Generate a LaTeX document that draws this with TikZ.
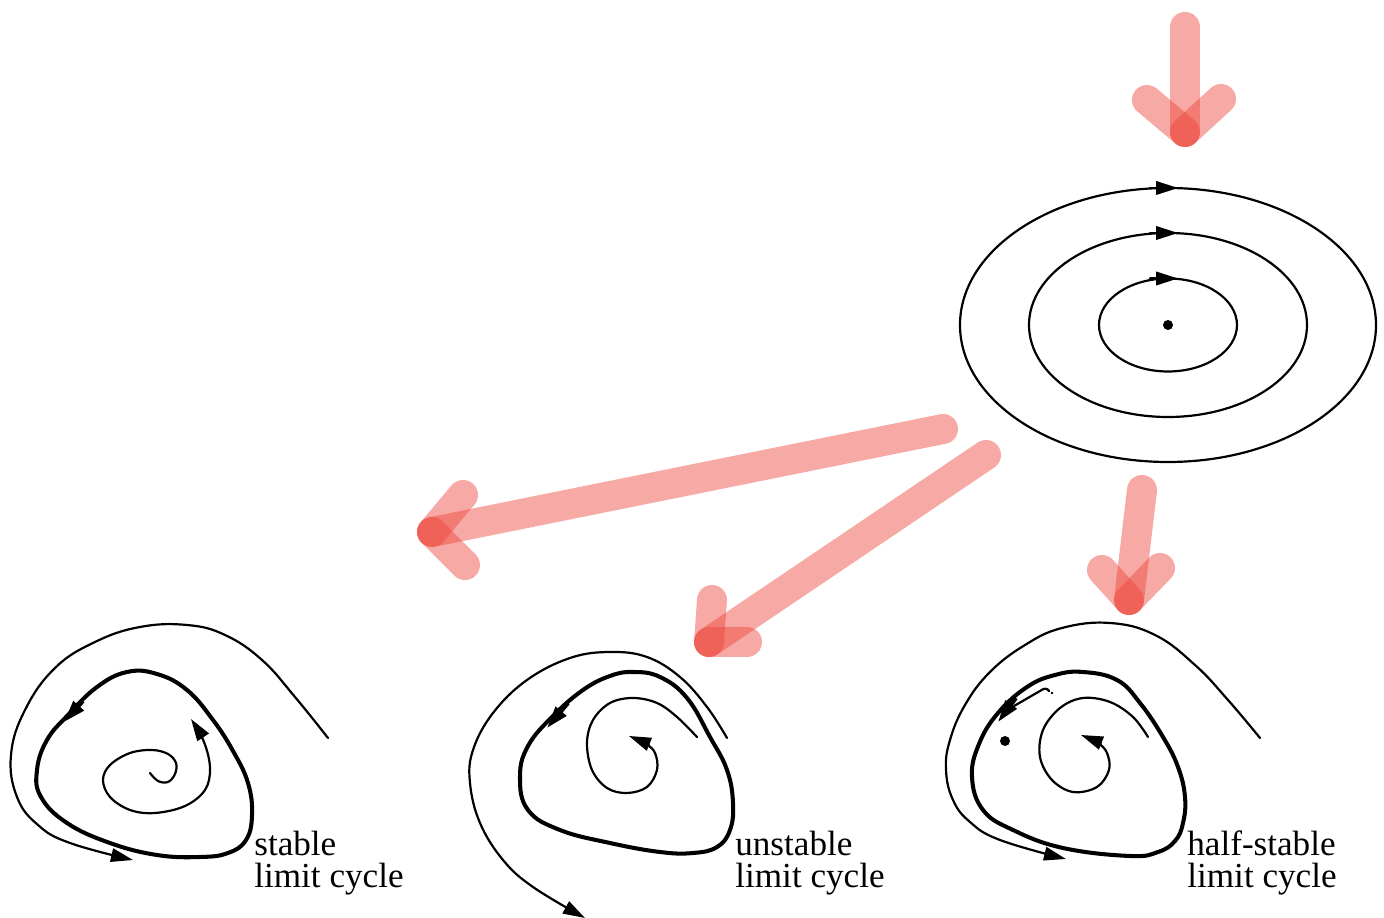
\documentclass[tikz,border=0pt]{standalone}
\usepackage{fontspec}
\setmainfont{Liberation Serif}
\usetikzlibrary{arrows.meta}
\definecolor{cuered}{RGB}{237,66,55}
\begin{document}
\begin{tikzpicture}[x=0.02cm, y=-0.02cm,
  orbit/.style={line width=1.25pt, line join=round, line cap=round},
  cycleline/.style={line width=2.3pt, line join=round},
  tipa/.style={-{Triangle[length=0.44cm,width=0.27cm]}},
  redstroke/.style={line width=0.6cm, line cap=round, draw=cuered, draw opacity=0.45},
  caption/.style={anchor=base west, inner sep=0pt, align=left,
                  font=\fontsize{20}{18.7}\selectfont}]
\useasboundingbox (0,0) rectangle (1384,918);

% ---------- centre: nested closed orbits ----------
\coordinate (ctr) at (1168,325);
\draw[orbit] (ctr) ellipse [x radius=208, y radius=137];
\draw[orbit] (ctr) ellipse [x radius=139, y radius=92];
\draw[orbit] (ctr) ellipse [x radius=69, y radius=46.5];
\fill (ctr) circle (5);
\draw[orbit, tipa] (1150,188) -- (1178,188);
\draw[orbit, tipa] (1150,233) -- (1178,233);
\draw[orbit, tipa] (1150,278.5) -- (1178,278.5);

% ---------- stable limit cycle ----------
\draw[cycleline] plot[smooth cycle, tension=0.7] coordinates {
  (127,672) (157,674) (187,690) (213,720) (233,751) (248,783) (252,815)
  (246,840) (228,853) (200,857) (157,855) (110,843) (67,823) (41,797)
  (37,770) (47,740) (68,715) (97,687)};
\draw[cycleline, tipa] (83,701) -- (64,722);
\draw[orbit, tipa] plot[smooth, tension=0.7] coordinates {
  (328,738) (295,697) (262,660) (225,635) (187,625) (140,627) (95,642)
  (55,668) (25,710) (11,755) (17,797) (38,825) (70,843) (133,860)};
\draw[orbit, tipa] plot[smooth, tension=0.6] coordinates {
  (150,773) (158,781) (168,782) (175,774) (176,763) (168,754) (152,750)
  (130,753) (110,765) (103,780) (110,797) (130,810) (155,813) (185,806)
  (205,790) (210,768) (204,742) (191,719)};
\node[caption] (lblS) at (254,888) {stable\\limit cycle};

% ---------- unstable limit cycle ----------
\draw[cycleline] plot[smooth cycle, tension=0.7] coordinates {
  (633,672) (660,677) (687,698) (710,737) (727,770) (733,803) (730,830)
  (717,847) (693,853) (660,852) (610,843) (560,830) (528,810) (520,777)
  (528,746) (553,716) (583,690) (610,676)};
\draw[cycleline, tipa] (568,703) -- (547,728);
\draw[orbit, tipa] plot[smooth, tension=0.65] coordinates {
  (727,738) (707,707) (680,677) (647,657) (610,652) (570,658) (527,680)
  (493,713) (473,750) (470,783) (480,823) (503,860) (533,887) (585,918)};
\draw[orbit, tipa] plot[smooth, tension=0.6] coordinates {
  (697,737) (677,717) (657,703) (633,698) (610,703) (593,720) (587,743)
  (592,770) (607,788) (627,793) (647,787) (657,770) (655,753) (646,744)
  (629,736)};
\node[caption] (lblU) at (735,888) {unstable\\limit cycle};

% ---------- half-stable limit cycle ----------
\draw[cycleline] plot[smooth cycle, tension=0.7] coordinates {
  (1083,672) (1117,680) (1140,703) (1163,737) (1178,767) (1185,797)
  (1183,823) (1175,841) (1158,852) (1130,856) (1063,848) (1013,830)
  (983,810) (972,777) (979,744) (998,713) (1027,687) (1055,675)};
\draw[cycleline, tipa] (1016,698) -- (998,722);
\draw[orbit] (1014,706) -- (1040,691) .. controls (1044,688) and (1047,688) .. (1049,691);
\fill (1052,693) circle (1.3);
\fill (1005,741) circle (5);
\draw[orbit, tipa] plot[smooth, tension=0.7] coordinates {
  (1260,738) (1228,700) (1195,665) (1155,635) (1110,623) (1062,628)
  (1025,645) (990,672) (965,705) (950,740) (946,770) (953,800) (970,822)
  (1000,840) (1066,859)};
\draw[orbit, tipa] plot[smooth, tension=0.6] coordinates {
  (1148,737) (1133,717) (1110,702) (1083,698) (1060,708) (1043,730)
  (1040,757) (1052,780) (1073,792) (1097,787) (1109,770) (1107,753)
  (1098,743) (1081,735)};
\node[caption] (lblH) at (1187,888) {half-stable\\limit cycle};

% ---------- translucent pointer arrows ----------
\coordinate (p1s) at (1185,27);  \coordinate (p1t) at (1185,132);
\coordinate (p1l) at (1147,100); \coordinate (p1r) at (1221,99);
\coordinate (p2s) at (943,429);  \coordinate (p2t) at (432,532);
\coordinate (p2l) at (463,495);  \coordinate (p2r) at (465,565);
\coordinate (p3s) at (986,455);  \coordinate (p3t) at (709,642);
\coordinate (p3l) at (712,600);  \coordinate (p3r) at (747,642);
\coordinate (p4s) at (1142,490); \coordinate (p4t) at (1129,600);
\coordinate (p4l) at (1102,570); \coordinate (p4r) at (1160,568);
\foreach \k in {1,2,3,4}{
  \draw[redstroke] (p\k s) -- (p\k t);
  \draw[redstroke] (p\k t) -- (p\k l);
  \draw[redstroke] (p\k t) -- (p\k r);
}
\end{tikzpicture}
\end{document}
